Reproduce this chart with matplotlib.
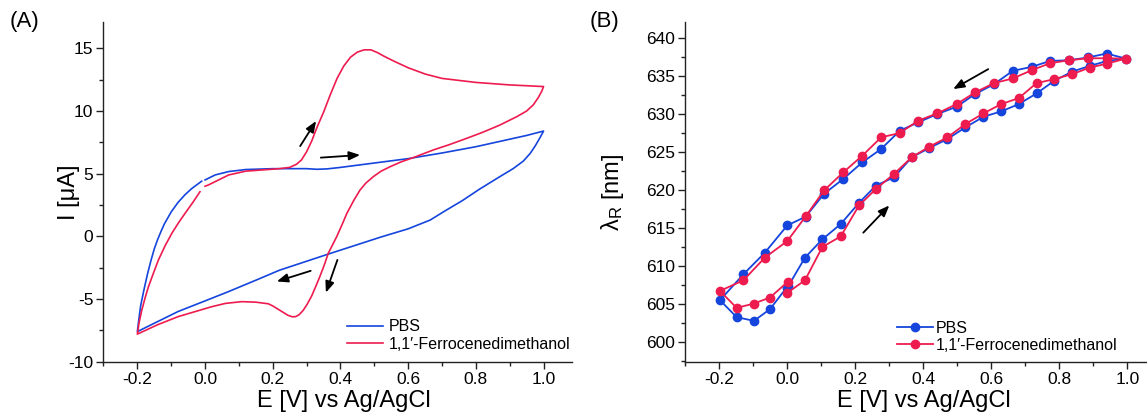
import matplotlib
matplotlib.use("Agg")
import matplotlib.pyplot as plt
from matplotlib.ticker import MultipleLocator

plt.rcParams['font.family'] = ['Liberation Sans', 'DejaVu Sans']
plt.rcParams['mathtext.fontset'] = 'custom'
plt.rcParams['mathtext.rm'] = 'Liberation Sans'
plt.rcParams['mathtext.it'] = 'Liberation Sans:italic'

# ---------------- Panel A: cyclic voltammograms ----------------
pbs_cv_E = [0.0, 0.03, 0.07, 0.12, 0.2, 0.3, 0.33, 0.36, 0.4, 0.5, 0.6, 0.7, 0.8, 0.9,
            0.95, 1.0, 0.99, 0.975, 0.96, 0.94, 0.91, 0.87, 0.81, 0.76, 0.71, 0.665,
            0.6, 0.52, 0.36, 0.22, 0.15, 0.07, 0.0, -0.08, -0.14, -0.2,
            -0.195, -0.19, -0.18, -0.17, -0.16, -0.15, -0.14, -0.13, -0.12, -0.1,
            -0.08, -0.06, -0.04, -0.02, -0.01]
pbs_cv_I = [4.5, 4.9, 5.17, 5.33, 5.4, 5.4, 5.35, 5.38, 5.5, 5.85, 6.2, 6.65, 7.15, 7.75,
            8.05, 8.4, 7.9, 7.2, 6.6, 6.0, 5.4, 4.75, 3.75, 2.85, 2.05, 1.3,
            0.6, -0.05, -1.45, -2.7, -3.5, -4.4, -5.15, -6.0, -6.8, -7.6,
            -6.5, -5.5, -4.2, -3.0, -1.95, -1.0, -0.25, 0.4, 1.0, 1.95,
            2.7, 3.3, 3.8, 4.2, 4.4]

fc_cv_E = [0.0, 0.01, 0.07, 0.12, 0.22, 0.25, 0.27, 0.285, 0.3, 0.315, 0.33, 0.35, 0.37,
           0.39, 0.41, 0.43, 0.45, 0.47, 0.49, 0.51, 0.53, 0.56, 0.6, 0.65, 0.7, 0.8,
           0.9, 1.0,
           0.995, 0.985, 0.97, 0.95, 0.921, 0.871, 0.82, 0.773, 0.72, 0.675, 0.615,
           0.58, 0.547, 0.52, 0.497, 0.475, 0.458, 0.44, 0.419, 0.405, 0.389, 0.364,
           0.352, 0.34, 0.327, 0.315, 0.302, 0.29, 0.278, 0.268, 0.258, 0.245, 0.227,
           0.2, 0.187, 0.15, 0.108, 0.06, 0.02, -0.079, -0.14, -0.2,
           -0.195, -0.187, -0.177, -0.167, -0.152, -0.138, -0.118, -0.098, -0.078,
           -0.059, -0.035, -0.015]
fc_cv_I = [4.0, 4.1, 4.9, 5.2, 5.4, 5.5, 5.75, 6.1, 6.75, 7.6, 8.65, 9.9, 11.3,
           12.6, 13.6, 14.3, 14.7, 14.88, 14.88, 14.65, 14.35, 13.95, 13.45, 12.95, 12.6, 12.28,
           12.08, 11.95,
           11.6, 11.1, 10.5, 10.0, 9.55, 8.88, 8.3, 7.82, 7.3, 6.9, 6.28,
           5.95, 5.56, 5.2, 4.76, 4.25, 3.7, 2.9, 1.84, 0.95, -0.02, -1.35,
           -2.3, -3.15, -4.0, -4.75, -5.4, -5.9, -6.25, -6.4, -6.42, -6.3, -6.0,
           -5.55, -5.38, -5.25, -5.21, -5.35, -5.61, -6.4, -7.05, -7.8,
           -6.9, -5.9, -4.9, -4.0, -2.9, -1.9, -0.75, 0.25, 1.1,
           1.84, 2.75, 3.56]

# ---------------- Panel B: resonance wavelength ----------------
pbs_E = [0.0, 0.052, 0.103, 0.157, 0.211, 0.261, 0.314, 0.366, 0.418, 0.471, 0.524,
         0.577, 0.629, 0.681, 0.733, 0.785, 0.838, 0.890, 0.941, 0.996,
         0.939, 0.885, 0.829, 0.773, 0.719, 0.663, 0.608, 0.552, 0.498, 0.441, 0.385,
         0.331, 0.276, 0.221, 0.165, 0.108, 0.054, 0.0, -0.066, -0.129, -0.198,
         -0.149, -0.098, -0.051, 0.001]
pbs_lam = [607.1, 611.07, 613.47, 615.48, 618.28, 620.55, 621.64, 624.27, 625.49, 626.67, 628.2,
           629.6, 630.3, 631.26, 632.66, 634.32, 635.54, 636.29, 636.94, 637.25,
           637.91, 637.4, 637.03, 636.94, 636.16, 635.63, 633.88, 632.57, 630.91, 629.95, 628.86,
           627.76, 625.36, 623.61, 621.43, 619.46, 616.45, 615.31, 611.72, 608.88, 605.47,
           603.24, 602.75, 604.29, 607.3]

fc_E = [0.0, 0.052, 0.103, 0.157, 0.211, 0.261, 0.314, 0.366, 0.418, 0.471, 0.524,
        0.577, 0.629, 0.681, 0.733, 0.785, 0.838, 0.890, 0.941, 0.996,
        0.939, 0.885, 0.829, 0.773, 0.719, 0.663, 0.608, 0.552, 0.498, 0.441, 0.385,
        0.331, 0.276, 0.221, 0.165, 0.108, 0.054, 0.0, -0.066, -0.129, -0.198,
        -0.149, -0.098, -0.051, 0.001]
fc_lam = [606.43, 608.09, 612.46, 613.86, 617.93, 620.11, 622.08, 624.27, 625.67, 626.89, 628.64,
          630.04, 631.26, 632.05, 634.02, 634.54, 635.2, 636.07, 636.59, 637.25,
          637.29, 637.29, 637.03, 636.64, 635.72, 634.63, 634.02, 632.79, 631.26, 630.04, 629.08,
          627.46, 626.89, 624.49, 622.3, 619.9, 616.49, 613.25, 611.07, 608.09, 606.69,
          604.46, 605.03, 605.82, 607.87]

series_labels = ['PBS', '1,1\u2032-Ferrocenedimethanol']
blue = '#1545dc'
red = '#ee1b4f'

W, H = 1147, 418
fig = plt.figure(figsize=(W / 100, H / 100), dpi=100)

def px_axes(l, t, r, b):
    return fig.add_axes([l / W, (H - b) / H, (r - l) / W, (b - t) / H])

def style(ax):
    for s in ['top', 'right']:
        ax.spines[s].set_visible(False)
    for s in ['left', 'bottom']:
        ax.spines[s].set_linewidth(1.0)
        ax.spines[s].set_color('#222222')
    ax.tick_params(which='major', direction='out', length=4.8, width=1.0,
                   color='#222222', labelsize=12.5, pad=2.5)
    ax.tick_params(which='minor', direction='out', length=2.8, width=1.0, color='#222222')

arrow_kw = dict(arrowstyle='-|>,head_length=0.55,head_width=0.22', color='k', lw=1.3,
                shrinkA=0, shrinkB=0, mutation_scale=12)

# Panel A
axA = px_axes(103.5, 22, 572, 361.7)
style(axA)
axA.plot(pbs_cv_E, pbs_cv_I, color=blue, lw=1.2, label=series_labels[0])
axA.plot(fc_cv_E, fc_cv_I, color=red, lw=1.2, label=series_labels[1])
axA.set_xlim(-0.3, 1.084)
axA.set_ylim(-10, 17.1)
axA.xaxis.set_minor_locator(MultipleLocator(0.1))
axA.yaxis.set_minor_locator(MultipleLocator(2.5))
axA.set_xticks([-0.2, 0.0, 0.2, 0.4, 0.6, 0.8, 1.0])
axA.set_xticklabels(['-0.2', '0.0', '0.2', '0.4', '0.6', '0.8', '1.0'])
axA.set_yticks([-10, -5, 0, 5, 10, 15])
axA.set_yticklabels(['-10', '-5', '0', '5', '10', '15'])
axA.set_xlabel('E [V] vs Ag/AgCl', fontsize=17)
axA.xaxis.set_label_coords((344 - 103.5) / (572 - 103.5), -0.083)
axA.set_ylabel('I [\u03bcA]', fontsize=17)
axA.yaxis.set_label_coords(-0.05, 0.5)
for (x0, y0), (x1, y1) in [((0.281, 7.2), (0.328, 9.2)), ((0.342, 6.28), (0.458, 6.49)),
                           ((0.312, -2.75), (0.212, -3.6)), ((0.391, -1.88), (0.357, -4.49))]:
    axA.annotate('', xy=(x1, y1), xytext=(x0, y0), arrowprops=arrow_kw)
legA = axA.legend(loc='center left', bbox_to_anchor=((346.7 - 103.5) / 468.5, (361.7 - 335.4) / 339.7),
                  frameon=False, fontsize=11.5, handlelength=2.3, handletextpad=0.35,
                  borderpad=0, borderaxespad=0, labelspacing=0.15)
for t in legA.get_texts():
    t.set_clip_on(True)
    t.set_clip_box(axA.bbox)
fig.text(10 / W, 1 - 22 / H, '(A)', fontsize=16, ha='left', va='center')

# Panel B
axB = px_axes(685.3, 22, 1147, 361.7)
style(axB)
axB.plot(pbs_E, pbs_lam, color=blue, lw=1.3, marker='o', ms=6, label=series_labels[0])
axB.plot(fc_E, fc_lam, color=red, lw=1.3, marker='o', ms=6, label=series_labels[1])
axB.set_xlim(-0.3, 1.058)
axB.set_ylim(597.38, 642.06)
axB.xaxis.set_minor_locator(MultipleLocator(0.1))
axB.yaxis.set_minor_locator(MultipleLocator(2.5))
axB.set_xticks([-0.2, 0.0, 0.2, 0.4, 0.6, 0.8, 1.0])
axB.set_xticklabels(['-0.2', '0.0', '0.2', '0.4', '0.6', '0.8', '1.0'])
axB.set_yticks([600, 605, 610, 615, 620, 625, 630, 635, 640])
axB.set_xlabel('E [V] vs Ag/AgCl', fontsize=17)
axB.xaxis.set_label_coords((924 - 685.3) / (1147 - 685.3), -0.083)
axB.set_ylabel(r'$\mathregular{\lambda_R}$ [nm]', fontsize=17)
axB.yaxis.set_label_coords((626 - 685.3) / 461.7, 0.5)
for (x0, y0), (x1, y1) in [((0.591, 635.86), (0.488, 633.24)), ((0.2235, 614.35), (0.30, 617.93))]:
    axB.annotate('', xy=(x1, y1), xytext=(x0, y0), arrowprops=arrow_kw)
legB = axB.legend(loc='center left', bbox_to_anchor=((896.7 - 685.3) / 461.7, (361.7 - 336.7) / 339.7),
                  frameon=False, fontsize=11.5, handlelength=2.3, handletextpad=0.15,
                  borderpad=0, borderaxespad=0, labelspacing=0.15)
fig.text(590 / W, 1 - 22 / H, '(B)', fontsize=16, ha='left', va='center')

fig.savefig('out.png', dpi=100)
